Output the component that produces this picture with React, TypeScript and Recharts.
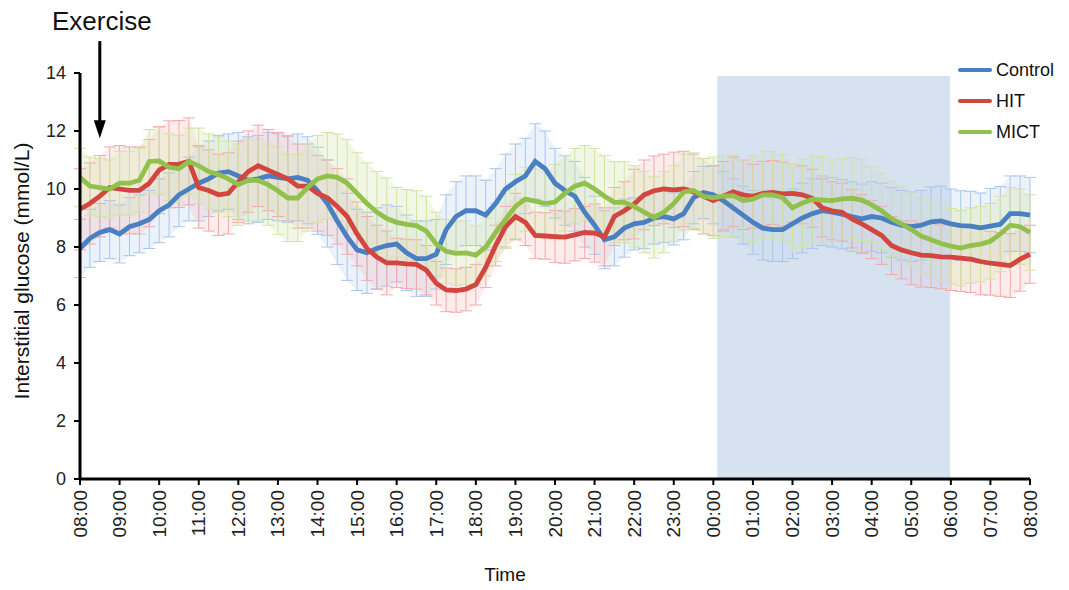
import { ComposedChart, Line, Area, XAxis, YAxis, ErrorBar, ReferenceArea, ReferenceLine, ReferenceDot } from "recharts";

// tick labels, one per hour from 08:00 to 08:00 the next day
const HOUR_LABELS = [
  "08:00", "09:00", "10:00", "11:00", "12:00", "13:00", "14:00", "15:00", "16:00",
  "17:00", "18:00", "19:00", "20:00", "21:00", "22:00", "23:00", "00:00", "01:00",
  "02:00", "03:00", "04:00", "05:00", "06:00", "07:00", "08:00",
];
const Y_TICKS = [0, 2, 4, 6, 8, 10, 12, 14];

// mean interstitial glucose (mmol/L), one value every 15 min
const CONTROL = [
  7.95, 8.3, 8.5, 8.6, 8.45, 8.7, 8.8, 8.95, 9.25, 9.45, 9.8, 10.0, 10.2, 10.35, 10.55, 10.6,
  10.45, 10.3, 10.35, 10.45, 10.4, 10.35, 10.4, 10.3, 9.94, 9.5, 8.9, 8.35, 7.9, 7.8, 7.95, 8.05,
  8.1, 7.8, 7.6, 7.6, 7.75, 8.6, 9.05, 9.25, 9.25, 9.1, 9.5, 10.0, 10.25, 10.45, 10.95, 10.7,
  10.2, 9.95, 9.75, 9.2, 8.75, 8.25, 8.35, 8.65, 8.8, 8.85, 9.0, 9.05, 8.97, 9.15, 9.7, 9.88,
  9.8, 9.6, 9.35, 9.1, 8.85, 8.65, 8.6, 8.6, 8.8, 9.0, 9.15, 9.25, 9.2, 9.13, 9.05, 8.97,
  9.05, 9.0, 8.85, 8.75, 8.7, 8.75, 8.87, 8.9, 8.8, 8.74, 8.72, 8.66, 8.72, 8.78, 9.15, 9.15,
  9.1,
];
const HIT = [
  9.3, 9.5, 9.75, 10.05, 10.0, 9.95, 9.95, 10.2, 10.65, 10.85, 10.86, 10.95, 10.05, 9.95, 9.8, 9.85,
  10.25, 10.6, 10.8, 10.65, 10.5, 10.35, 10.1, 10.1, 9.85, 9.7, 9.4, 9.05, 8.45, 7.95, 7.65, 7.45,
  7.45, 7.42, 7.4, 7.2, 6.75, 6.52, 6.5, 6.55, 6.7, 7.3, 8.05, 8.7, 9.05, 8.85, 8.4, 8.38,
  8.36, 8.34, 8.42, 8.5, 8.48, 8.35, 9.05, 9.25, 9.48, 9.8, 9.94, 10.0, 9.97, 10.0, 9.9, 9.75,
  9.6, 9.75, 9.9, 9.8, 9.75, 9.85, 9.88, 9.83, 9.85, 9.8, 9.68, 9.35, 9.25, 9.2, 8.97, 8.8,
  8.6, 8.4, 8.05, 7.9, 7.8, 7.72, 7.7, 7.66, 7.65, 7.62, 7.58, 7.5, 7.44, 7.4, 7.36, 7.58,
  7.75,
];
const MICT = [
  10.4, 10.1, 10.05, 10.0, 10.2, 10.2, 10.3, 10.95, 10.97, 10.75, 10.7, 10.95, 10.8, 10.6, 10.5, 10.35,
  10.15, 10.3, 10.3, 10.15, 9.94, 9.69, 9.69, 10.05, 10.35, 10.45, 10.4, 10.2, 9.85, 9.5, 9.2, 8.98,
  8.85, 8.78, 8.74, 8.55, 8.1, 7.85, 7.78, 7.8, 7.72, 8.0, 8.5, 8.95, 9.4, 9.65, 9.58, 9.5,
  9.55, 9.85, 10.1, 10.2, 10.0, 9.75, 9.54, 9.54, 9.4, 9.2, 9.02, 9.2, 9.5, 9.9, 9.95, 9.75,
  9.7, 9.75, 9.77, 9.6, 9.65, 9.8, 9.8, 9.7, 9.35, 9.52, 9.64, 9.62, 9.6, 9.66, 9.68, 9.62,
  9.45, 9.25, 8.98, 8.8, 8.6, 8.38, 8.25, 8.12, 8.03, 7.96, 8.05, 8.1, 8.2, 8.45, 8.75, 8.7,
  8.5,
];

// error bar half-widths, one per hour
const CONTROL_SD = [1.0, 1.0, 1.1, 1.3, 1.5, 1.5, 1.5, 1.4, 1.3, 1.2, 1.2, 1.3, 1.2, 1.0, 0.9, 0.9, 1.0, 1.1, 1.2, 1.2, 1.2, 1.2, 1.2, 1.3, 1.3];
const HIT_SD = [1.4, 1.5, 1.5, 1.4, 1.4, 1.45, 1.3, 1.1, 0.85, 0.75, 0.7, 0.8, 0.9, 1.0, 1.2, 1.3, 1.2, 1.1, 1.0, 1.0, 1.0, 1.1, 1.15, 1.1, 1.0];
const MICT_SD = [1.0, 1.1, 1.15, 1.3, 1.4, 1.5, 1.5, 1.4, 1.2, 1.1, 1.0, 1.1, 1.3, 1.4, 1.4, 1.3, 1.4, 1.5, 1.5, 1.4, 1.3, 1.3, 1.3, 1.3, 1.3];

const NIGHT_START = 16.1;
const NIGHT_END = 21.98;
const EXERCISE_AT = 0.5;

const BLUE = "#4a7fc1";
const RED = "#d2463f";
const GREEN = "#92c04c";
const FONT = "'Liberation Sans', Arial, sans-serif";

const data = CONTROL.map((c, i) => {
  const h = Math.floor(i / 4);
  return {
    t: i / 4,
    control: c,
    hit: HIT[i],
    mict: MICT[i],
    controlErr: CONTROL_SD[h],
    hitErr: HIT_SD[h],
    mictErr: MICT_SD[h],
    controlBand: [c - CONTROL_SD[h], c + CONTROL_SD[h]],
    hitBand: [HIT[i] - HIT_SD[h], HIT[i] + HIT_SD[h]],
    mictBand: [MICT[i] - MICT_SD[h], MICT[i] + MICT_SD[h]],
  };
});

const TimeTick = ({ x, y, payload }: any) => (
  <text
    x={x}
    y={y + 3}
    transform={`rotate(-90, ${x}, ${y + 3})`}
    textAnchor="end"
    dominantBaseline="central"
    fontSize={19}
    fontFamily={FONT}
    fill="#222"
  >
    {HOUR_LABELS[payload.value]}
  </text>
);

const legend = [
  { name: "Control", color: BLUE },
  { name: "HIT", color: RED },
  { name: "MICT", color: GREEN },
];

export default function App() {
  return (
    <div style={{ position: "relative", width: 1060, height: 580, fontFamily: FONT, color: "#111" }}>
      <ComposedChart width={1060} height={580} data={data} margin={{ top: 65, right: 38, bottom: 29, left: 0 }}>
        <XAxis
          type="number"
          dataKey="t"
          domain={[0, 24]}
          ticks={HOUR_LABELS.map((_, i) => i)}
          interval={0}
          height={80}
          tick={<TimeTick />}
          tickSize={6}
          axisLine={{ stroke: "#000", strokeWidth: 3 }}
          tickLine={{ stroke: "#000", strokeWidth: 2 }}
        />
        <YAxis
          domain={[0, 14]}
          ticks={Y_TICKS}
          width={72}
          tickSize={6}
          tickMargin={8}
          tick={{ fontSize: 18, fill: "#222", fontFamily: FONT }}
          axisLine={{ stroke: "#000", strokeWidth: 3 }}
          tickLine={{ stroke: "#000", strokeWidth: 2 }}
        />

        <Area dataKey="controlBand" stroke="none" fill="#a8c6ea" fillOpacity={0.22} isAnimationActive={false} />
        <Area dataKey="hitBand" stroke="none" fill="#f2a9a9" fillOpacity={0.22} isAnimationActive={false} />
        <Area dataKey="mictBand" stroke="none" fill="#d5e6a8" fillOpacity={0.3} isAnimationActive={false} />

        <Line dataKey="control" stroke="none" dot={false} activeDot={false} isAnimationActive={false}>
          <ErrorBar dataKey="controlErr" stroke="#a8c6ea" strokeWidth={1} width={6} />
        </Line>
        <Line dataKey="hit" stroke="none" dot={false} activeDot={false} isAnimationActive={false}>
          <ErrorBar dataKey="hitErr" stroke="#f2a9a9" strokeWidth={1} width={6} />
        </Line>
        <Line dataKey="mict" stroke="none" dot={false} activeDot={false} isAnimationActive={false}>
          <ErrorBar dataKey="mictErr" stroke="#d2e3a4" strokeWidth={1} width={6} />
        </Line>

        <ReferenceArea x1={NIGHT_START} x2={NIGHT_END} y1={0} y2={13.9} fill="#c6d6ea" fillOpacity={0.7} stroke="none" />

        <Line dataKey="control" stroke={BLUE} strokeWidth={4.8} dot={false} activeDot={false} isAnimationActive={false} />
        <Line dataKey="hit" stroke={RED} strokeWidth={4.8} dot={false} activeDot={false} isAnimationActive={false} />
        <Line dataKey="mict" stroke={GREEN} strokeWidth={4.8} dot={false} activeDot={false} isAnimationActive={false} />

        <ReferenceLine
          segment={[{ x: EXERCISE_AT, y: 15.1 }, { x: EXERCISE_AT, y: 12.3 }]}
          stroke="#000"
          strokeWidth={3}
          ifOverflow="visible"
        />
        <ReferenceDot
          x={EXERCISE_AT}
          y={11.75}
          ifOverflow="visible"
          shape={(p: any) => (
            <path d={`M${p.cx - 6},${p.cy - 18} L${p.cx + 6},${p.cy - 18} L${p.cx},${p.cy} Z`} fill="#000" />
          )}
        />
      </ComposedChart>

      <div style={{ position: "absolute", left: 44, top: 0, fontSize: 26, lineHeight: "26px", whiteSpace: "nowrap" }}>Exercise</div>
      <div
        style={{
          position: "absolute",
          left: 14,
          top: 263,
          fontSize: 21,
          whiteSpace: "nowrap",
          transform: "translate(-50%, -50%) rotate(-90deg)",
        }}
      >
        Interstitial glucose (mmol/L)
      </div>
      <div style={{ position: "absolute", left: 497, top: 567, fontSize: 19, transform: "translate(-50%, -50%)" }}>Time</div>

      {legend.map((item, i) => (
        <div key={item.name} style={{ position: "absolute", left: 950, top: 62 + i * 31 - 11, height: 22, display: "flex", alignItems: "center" }}>
          <span style={{ display: "inline-block", width: 34, height: 4, background: item.color, borderRadius: 2 }} />
          <span style={{ fontSize: 18, marginLeft: 4 }}>{item.name}</span>
        </div>
      ))}
    </div>
  );
}
